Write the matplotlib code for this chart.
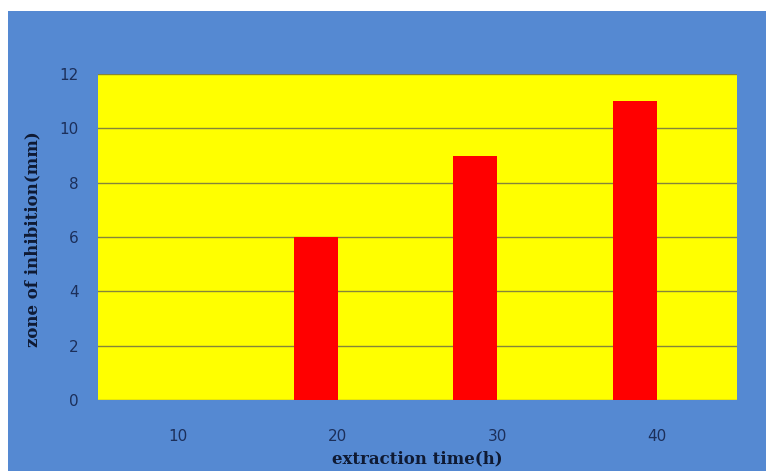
import matplotlib.pyplot as plt
from matplotlib.patches import Rectangle
import numpy as np

# zone of inhibition per extraction time
times = ['10', '20', '30', '40']
zone_mm = [0, 6, 9, 11]
y_ticks = [0, 2, 4, 6, 8, 10, 12]

fig = plt.figure(figsize=(7.66, 4.71), dpi=100, facecolor='white')

# blue chart area with a thin white margin on top and left
fig.patches.append(Rectangle((8 / 766, 0), 1, 1 - 11 / 471, transform=fig.transFigure,
                             facecolor='#5589d2', edgecolor='none', zorder=-1))

ax = fig.add_axes([98 / 766, 71 / 471, 639 / 766, 326 / 471])
ax.set_facecolor('#ffff00')

x = np.arange(len(times))
# bars sit in the left slot of each category (second series is empty)
ax.bar(x - 0.1375, zone_mm, width=0.275, color='#ff0000', zorder=3)

ax.set_xlim(-0.5, len(times) - 0.5)
ax.set_ylim(0, 12)
ax.set_yticks(y_ticks)
ax.set_xticks(x)
ax.set_xticklabels(times)
ax.grid(axis='y', color='#85853a', linewidth=1, zorder=0)

for s in ax.spines.values():
    s.set_visible(False)
ax.tick_params(length=0, colors='#1c2f5a', labelsize=11)
ax.tick_params(axis='y', pad=14)
ax.tick_params(axis='x', pad=21)

label_style = dict(family='DejaVu Serif', fontweight='bold', fontsize=12,
                   color='#0f1a33', ha='center', va='center')
fig.text(417 / 766, 1 - 459 / 471, 'extraction time(h)', **label_style)
fig.text(33 / 766, 1 - 239 / 471, 'zone of inhibition(mm)', rotation=90, **label_style)

fig.savefig('out.png', dpi=100, facecolor=fig.get_facecolor())
